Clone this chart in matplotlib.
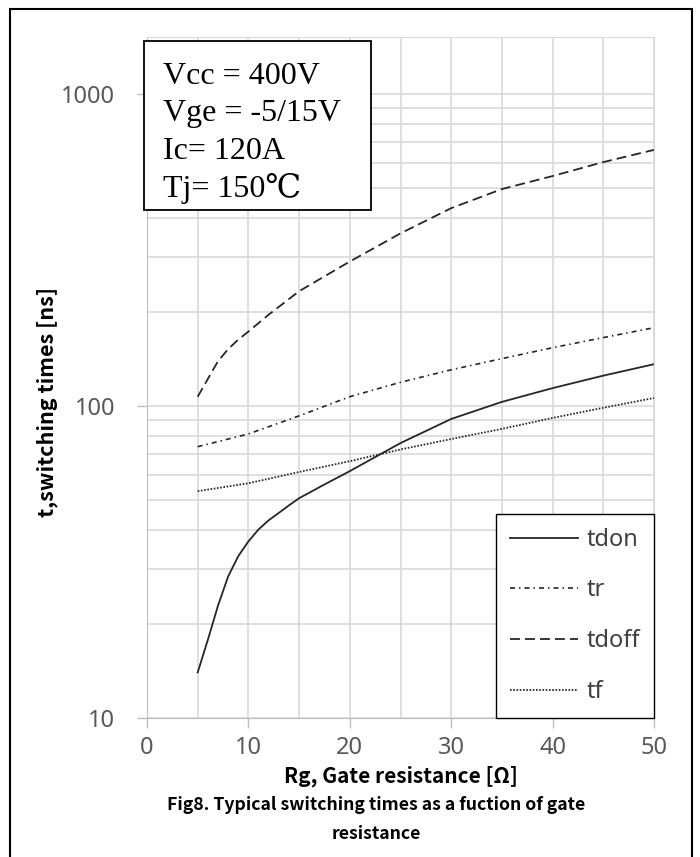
import numpy as np
import matplotlib
matplotlib.use("Agg")
import matplotlib.pyplot as plt
from matplotlib.patches import Rectangle
from matplotlib.ticker import FixedLocator, NullFormatter

plt.rcParams['font.family'] = ['Noto Sans CJK SC', 'DejaVu Sans']

# values (Rg in ohm, times in ns)
rg_on = [5, 6, 7, 8, 9, 10, 11, 12, 13, 14, 15, 17.5, 20, 25, 30, 35, 40, 45, 50]
tdon = [14.0, 17.8, 22.9, 28.4, 33.0, 36.8, 40.2, 43.0, 45.4, 48.0, 50.6, 56.0, 61.8,
        76.0, 90.8, 103, 114, 125, 136]
rg_off = [5, 6, 7, 8, 9, 10, 12, 15, 20, 25, 30, 35, 40, 45, 50]
tdoff = [107, 122, 139, 152, 163, 173, 196, 233, 290, 357, 430, 495, 545, 604, 661]
rg = [5, 10, 15, 20, 25, 30, 35, 40, 45, 50]
tr = [74, 81.3, 92.9, 107, 119, 130.5, 141.7, 153.6, 165.5, 178]
tf = [53.3, 56.5, 61.4, 66.5, 72.5, 78.3, 84.4, 91.5, 98.6, 106]

cond_lines = ['Vcc = 400V', 'Vge = -5/15V', 'Ic= 120A', 'Tj= 150℃']

W, H = 700, 857
fig = plt.figure(figsize=(W / 100, H / 100), dpi=100)
ax = fig.add_axes([147 / W, 139 / H, 507 / W, 681 / H])

line_col = '#262626'
ax.plot(rg_on, tdon, color=line_col, lw=1.3, label='tdon')
ax.plot(rg, tr, color=line_col, lw=1.2, dashes=(3.0, 2.4, 0.9, 2.4), label='tr')
ax.plot(rg_off, tdoff, color=line_col, lw=1.3, dashes=(5.5, 2.8), label='tdoff')
ax.plot(rg, tf, color=line_col, lw=1.3, dashes=(0.9, 0.9), label='tf')

ax.set_yscale('log')
ax.set_xlim(0, 50)
ax.set_ylim(10, 1520)

grid_col = '#d9d9d9'
ax.set_xticks([0, 10, 20, 30, 40, 50])
ax.xaxis.set_minor_locator(FixedLocator([5, 15, 25, 35, 45]))
ax.set_yticks([10, 100, 1000])
ax.set_yticklabels(['10', '100', '1000'])
minors = [m * d for d in (10, 100) for m in range(2, 10)]
ax.yaxis.set_minor_locator(FixedLocator(minors))
ax.yaxis.set_minor_formatter(NullFormatter())
ax.grid(True, which='both', color=grid_col, lw=1.2)
ax.set_axisbelow(True)
ax.tick_params(axis='both', which='major', labelsize=17, labelcolor='#595959',
               color='#bfbfbf', length=7, width=1)
ax.tick_params(axis='y', which='major', pad=16)
ax.tick_params(axis='x', which='major', pad=6)
ax.tick_params(axis='both', which='minor', length=0)
for t in ax.get_xticklabels() + ax.get_yticklabels():
    t.set_family(['Noto Sans', 'DejaVu Sans'])
for s in ['left', 'bottom']:
    ax.spines[s].set_color('#bfbfbf')
for s in ['top', 'right']:
    ax.spines[s].set_color(grid_col)

ax.set_xlabel('Rg, Gate resistance [Ω]', fontsize=15, fontweight='bold', labelpad=4)
ax.set_ylabel('t,switching times [ns]', fontsize=15.5, fontweight='bold')
ax.yaxis.set_label_coords(-0.176, 0.464)

leg = ax.legend(loc='lower right', bbox_to_anchor=(1, 0), borderaxespad=0,
                prop={'family': ['Noto Sans', 'DejaVu Sans'], 'size': 17},
                handlelength=2.9, handletextpad=0.34, labelspacing=1.13,
                borderpad=0.6, fancybox=False, framealpha=1, edgecolor='#000000')
leg.get_frame().set_linewidth(1.0)
for t in leg.get_texts():
    t.set_color('#404040')

# condition box
fig.patches.append(Rectangle((144 / W, 1 - 210 / H), 227 / W, 169 / H,
                             transform=fig.transFigure, facecolor='white',
                             edgecolor='black', lw=1.3, zorder=5))
for i, s in enumerate(cond_lines):
    fig.text(163 / W, 1 - (84 + 37.5 * i) / H, s,
             family=['Liberation Serif', 'DejaVu Serif', 'Noto Sans CJK SC', 'DejaVu Sans'],
             fontsize=23, va='baseline', ha='left', zorder=6)

fig.text(376 / W, 1 - 805 / H, 'Fig8. Typical switching times as a fuction of gate',
         fontsize=12.7, fontweight='bold', ha='center', va='center')
fig.text(376 / W, 1 - 834 / H, 'resistance',
         fontsize=12.7, fontweight='bold', ha='center', va='center')

# outer frame
fig.patches.append(Rectangle((10 / W, -0.01), 682 / W, 1.01 - 9 / H,
                             transform=fig.transFigure, fill=False,
                             edgecolor='black', lw=1.5, zorder=5))

fig.savefig('out.png', dpi=100)
